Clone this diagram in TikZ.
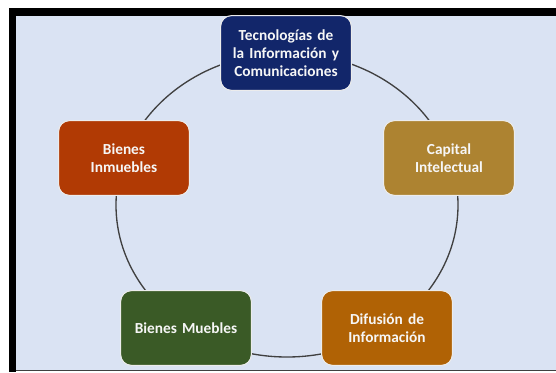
\documentclass[tikz,border=0pt]{standalone}
\usepackage{fontspec}
\setmainfont{Carlito}
\usepackage{tikz}

\definecolor{fondo}{HTML}{DAE3F3}
\definecolor{azul}{HTML}{12266A}
\definecolor{oxido}{HTML}{B13A04}
\definecolor{ocre}{HTML}{AD8331}
\definecolor{verde}{HTML}{3A5A26}
\definecolor{naranja}{HTML}{B06205}
\definecolor{linea}{HTML}{404040}

\begin{document}
\begin{tikzpicture}[x=0.75pt,y=-0.75pt,
  caja/.style={draw=white!85!gray, line width=0.8pt, rounded corners=8pt,
    minimum width=98pt, minimum height=56pt, text width=90pt, align=center,
    text=white!93!gray, font=\bfseries\fontsize{11.5}{13.5}\selectfont}]

\useasboundingbox (0,0) rectangle (556,372);
\fill [white] (0,0) rectangle (556,372);
\fill [fondo] (16,16) rectangle (556,370);
\fill [black] (9,8) rectangle (556,16);
\fill [black] (9,8) rectangle (16,372);
\draw [linea, line width=1pt] (16,370.5) -- (556,370.5);

\coordinate (centro) at (287,205);
\draw [linea, line width=1pt] (centro) ellipse [x radius=171, y radius=152];

\node [caja, fill=azul] (tic) at (286,53) {Tecnologías de\\la Información y\\Comunicaciones};
\node [caja, fill=ocre] (capital) at (449,158) {Capital\\Intelectual};
\node [caja, fill=naranja] (difusion) at (387,328) {Difusión de\\Información};
\node [caja, fill=verde] (muebles) at (186,328) {Bienes Muebles};
\node [caja, fill=oxido] (inmuebles) at (124,158) {Bienes\\Inmuebles};

\end{tikzpicture}
\end{document}
